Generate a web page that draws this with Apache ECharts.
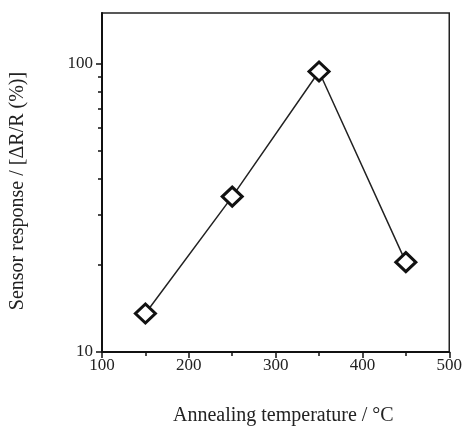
<!DOCTYPE html>
<html>
<head>
<meta charset="utf-8">
<script src="https://cdn.jsdelivr.net/npm/echarts@6/dist/echarts.min.js"></script>
<style>html,body{margin:0;padding:0;background:#fff}#c{width:465px;height:427px}</style>
</head>
<body>
<div id="c"></div>
<script>
var temperatures = [150, 250, 350, 450];
var responses = [13.6, 34.6, 94, 20.5];
var xTickLabels = [100, 200, 300, 400, 500];
var yMajorTicks = [10, 100];
var yMinorTicks = [20, 30, 40, 50, 60, 70, 80, 90];
var xTitle = 'Annealing temperature / °C';
var yTitle = 'Sensor response / [ΔR/R (%)]';

var font = '"Liberation Serif", "DejaVu Serif", serif';
var chart = echarts.init(document.getElementById('c'));
chart.setOption({
  animation: false,
  backgroundColor: '#fff',
  grid: {left: 102, right: 15, top: 13, bottom: 75, show: true, borderColor: '#222', borderWidth: 1.5, backgroundColor: 'transparent'},
  xAxis: {
    type: 'value', min: 100, max: 500, interval: 100,
    axisLine: {show: true, lineStyle: {color: '#111', width: 2}},
    axisTick: {show: true, inside: false, length: 6, lineStyle: {color: '#111', width: 1.5}},
    minorTick: {show: true, splitNumber: 2, length: 4, lineStyle: {color: '#111', width: 1.5}},
    splitLine: {show: false},
    axisLabel: {color: '#222', fontFamily: font, fontSize: 17, margin: 5,
      formatter: function (v) { return xTickLabels.indexOf(v) >= 0 ? String(v) : ''; }}
  },
  yAxis: [{
    type: 'log', logBase: 10, min: 10, max: 150,
    axisLine: {show: true, lineStyle: {color: '#111', width: 2}},
    axisTick: {show: true, inside: false, length: 6, customValues: yMajorTicks, lineStyle: {color: '#111', width: 1.5}},
    splitLine: {show: false},
    axisLabel: {color: '#222', fontFamily: font, fontSize: 17, margin: 9, customValues: yMajorTicks}
  }, {
    type: 'log', logBase: 10, min: 10, max: 150, position: 'left',
    axisLine: {show: false},
    axisTick: {show: true, inside: false, length: 4, customValues: yMinorTicks, lineStyle: {color: '#111', width: 1.5}},
    splitLine: {show: false},
    axisLabel: {show: false}
  }],
  graphic: [
    {type: 'text', left: 173, top: 406, style: {text: xTitle, font: '20px ' + font, fill: '#222'}},
    {type: 'text', x: 8, y: 191, rotation: Math.PI / 2, style: {text: yTitle, font: '20px ' + font, fill: '#222', align: 'center', verticalAlign: 'top'}}
  ],
  series: [{
    type: 'line',
    data: temperatures.map(function (t, i) { return [t, responses[i]]; }),
    symbol: 'diamond', symbolSize: [20, 19],
    itemStyle: {color: '#fff', borderColor: '#111', borderWidth: 3},
    lineStyle: {color: '#222', width: 1.5}
  }]
});
</script>
</body>
</html>
